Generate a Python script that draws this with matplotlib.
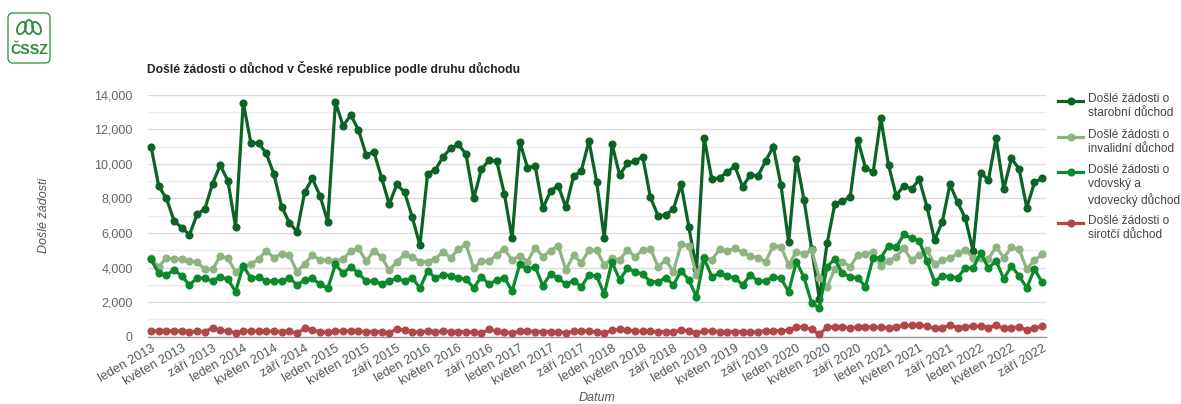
import matplotlib
matplotlib.use("Agg")
import matplotlib.pyplot as plt
from matplotlib.patches import FancyBboxPatch, Ellipse
from matplotlib.lines import Line2D
import numpy as np

months_cz = ["leden", "únor", "březen", "duben", "květen", "červen",
             "červenec", "srpen", "září", "říjen", "listopad", "prosinec"]
start_year = 2013
n_points = 117  # leden 2013 .. září 2022

starobni = [11000, 8700, 8000, 6700, 6300, 5900, 7080, 7390, 8850, 9930, 9020, 6360,
            13540, 11200, 11200, 10600, 9390, 7520, 6600, 6070, 8370, 9160, 8140, 6650,
            13560, 12200, 12820, 11960, 10510, 10700, 9200, 7670, 8810, 8350, 6920, 5280,
            9430, 9640, 10410, 10890, 11130, 10550, 8000, 9680, 10220, 10160, 8230,
            5690, 11280, 9780, 9870, 7420, 8430, 8740, 7480, 9290, 9580, 11320, 8970,
            5690, 11150, 9350, 10030, 10160, 10410, 8060, 7000, 7040, 7390, 8810, 6360,
            3900, 11510, 9100, 9200, 9510, 9870, 8680, 9350, 9310, 10160, 10990, 8770,
            5460, 10280, 7910, 5050, 2200, 5400, 7660, 7870, 8060, 11380,
            9780, 9510, 12630, 9930, 8160, 8740, 8540, 9100, 7520, 5590, 6650, 8810,
            7770, 6850, 4970, 9490, 9060, 11470, 8540, 10320, 9700, 7460, 8930, 9160]

invalidni = [4530, 4030, 4570, 4490, 4470, 4400, 4300, 3910, 3910, 4650, 4530, 3760,
             4050, 4200, 4490, 4960, 4570, 4780, 4720, 3760, 4220, 4720, 4430, 4430,
             4380, 4490, 4960, 5110, 4380, 4960, 4630, 3840, 4340, 4760, 4610, 4340,
             4340, 4490, 4920, 4570, 5050, 5360, 3950, 4380, 4380, 4720, 5070,
             4430, 4690, 4340, 5150, 4630, 4970, 5260, 3860, 4720, 4280, 4990, 5010,
             4150, 4570, 4430, 5030, 4630, 5010, 5090, 4050, 4430, 3760, 5340, 5260,
             3570, 4590, 4430, 5070, 4960, 5110, 4880, 4670, 4570, 4340, 5260, 5210,
             4150, 4920, 4780, 5010, 3410, 2890, 3900, 4340, 4050, 4720,
             4760, 4920, 4090, 4380, 4630, 5110, 4430, 4720, 5010, 4200, 4430, 4530,
             4820, 5010, 4570, 4530, 4490, 5210, 4570, 5170, 5050, 3910, 4430, 4760]

vdovsky = [4470, 3660, 3570, 3860, 3510, 2990, 3410, 3370, 3220, 3470, 3320, 2600,
           4110, 3370, 3430, 3220, 3220, 3220, 3410, 2990, 3280, 3370, 3030, 2800,
           4180, 3660, 4050, 3660, 3220, 3220, 3050, 3220, 3370, 3220, 3410, 2800,
           3800, 3410, 3570, 3530, 3410, 3320, 2830, 3470, 3030, 3280, 3410,
           2640, 4200, 3900, 4050, 2950, 3630, 3370, 3050, 3240, 2890, 3570, 3510,
           2470, 4340, 3280, 3950, 3760, 3610, 3180, 3180, 3410, 2990, 3820, 3280,
           2310, 4530, 3470, 3660, 3510, 3410, 2990, 3570, 3220, 3220, 3470, 3370,
           2600, 4340, 3430, 1930, 1680, 4050, 4490, 3660, 3470, 3410,
           2890, 4570, 4570, 5260, 5170, 5920, 5690, 5550, 4380, 3180, 3530, 3470,
           3410, 3990, 3950, 4860, 3950, 4400, 3340, 4090, 3510, 2830, 3910, 3140]

sirotci = [330, 330, 340, 320, 330, 290, 310, 300, 500, 380, 320, 220,
           330, 320, 320, 310, 310, 300, 310, 200, 480, 380, 280, 270,
           320, 310, 330, 310, 300, 300, 290, 210, 460, 360, 300, 270,
           310, 300, 310, 300, 300, 280, 280, 200, 420, 330, 280,
           200, 330, 320, 300, 290, 300, 280, 230, 310, 330, 320, 290,
           210, 360, 420, 390, 330, 310, 310, 290, 300, 280, 370, 350,
           220, 330, 310, 300, 290, 300, 280, 250, 300, 330, 330, 350,
           370, 580, 550, 420, 130, 560, 570, 550, 520, 550,
           580, 550, 550, 520, 580, 650, 650, 700, 600, 480, 530, 650,
           530, 570, 620, 600, 530, 660, 480, 530, 550, 390, 520, 600]

series_names = ["Došlé žádosti o\nstarobní důchod",
                "Došlé žádosti o\ninvalidní důchod",
                "Došlé žádosti o\nvdovský a\nvdovecký důchod",
                "Došlé žádosti o\nsirotčí důchod"]
series_colors = ["#0b6325", "#8fb482", "#0b8a2c", "#b24748"]

title = "Došlé žádosti o důchod v České republice podle druhu důchodu"
y_label = "Došlé žádosti"
x_label = "Datum"

plt.rcParams['font.family'] = ['Liberation Sans', 'DejaVu Sans']

fig = plt.figure(figsize=(11.81, 4.04), dpi=100)
ax = fig.add_axes([148/1181, 1 - 336.7/404, (1046 - 148)/1181, (336.7 - 94.7)/404])

x = np.arange(n_points)
all_series = [starobni, invalidni, vdovsky, sirotci]
for vals, col, name in zip(all_series, series_colors, series_names):
    ax.plot(x, vals[:n_points], color=col, lw=2.3, marker='o', ms=4.8,
            solid_joinstyle='miter', clip_on=False, zorder=3, label=name)

ax.set_xlim(-0.4, n_points - 1 + 0.5)
ax.set_ylim(0, 14000)

ax.set_yticks(np.arange(0, 14001, 2000))
ax.set_yticks(np.arange(1000, 14000, 2000), minor=True)
ax.set_yticklabels([f"{v:,}" for v in range(0, 14001, 2000)])
ax.grid(axis='y', which='major', color='#dcdcdc', lw=1.0, zorder=0)
ax.grid(axis='y', which='minor', color='#ececec', lw=1.0, zorder=0)
ax.tick_params(axis='y', which='both', length=0, pad=11, labelsize=9, labelcolor='#666666')

tick_pos = list(range(0, n_points, 4))
tick_labels = [f"{months_cz[i % 12]} {start_year + i // 12}" for i in tick_pos]
ax.set_xticks(tick_pos)
ax.set_xticklabels(tick_labels, rotation=30, ha='right', rotation_mode='anchor')
ax.tick_params(axis='x', length=0, pad=4, labelsize=9.2, labelcolor='#555555')

for s in ['top', 'right', 'left']:
    ax.spines[s].set_visible(False)
ax.spines['bottom'].set_color('#999999')
ax.spines['bottom'].set_linewidth(1.0)

fig.text(147/1181, 1 - 68/404, title, fontsize=8.7, fontweight='bold', color='#222222',
         ha='left', va='center')
fig.text(44/1181, 1 - 215/404, y_label, fontsize=9, style='italic', color='#555555',
         rotation=90, ha='center', va='center')
fig.text(597/1181, 1 - 398/404, x_label, fontsize=9, style='italic', color='#555555',
         ha='center', va='center')

# overlay in pixel coordinates (logo + legend)
ov = fig.add_axes([0, 0, 1, 1], zorder=5)
ov.set_xlim(0, 1181)
ov.set_ylim(404, 0)
ov.axis('off')
ov.patch.set_alpha(0)

leg_y = [100.7, 136.7, 171.7, 222.7]
for yy, col, name in zip(leg_y, series_colors, series_names):
    ov.add_line(Line2D([1058, 1083], [yy, yy], color=col, lw=2.3))
    ov.add_line(Line2D([1070.5], [yy], color=col, marker='o', ms=4.8, lw=0))
    ov.text(1087.5, yy - 7.5, name, fontsize=8.6, color='#444444', ha='left', va='top',
            linespacing=1.25)

ov.add_patch(FancyBboxPatch((8, 13), 42, 50, boxstyle="round,pad=0,rounding_size=5",
                            fc='white', ec='#3b9a4f', lw=1.0, zorder=0))
for cx, cy, w, h, ang in [(21.5, 28, 8, 13, 25), (29, 27, 8, 14, 0), (36.5, 28, 8, 13, -25)]:
    ov.add_patch(Ellipse((cx, cy), w, h, angle=ang, fc='none', ec='#2e8b3e', lw=1.3))
ov.text(29, 50.5, "ČSSZ", fontsize=10.3, fontweight='bold', color='#2e8b3e',
        ha='center', va='center')

fig.savefig("out.png", dpi=100)
